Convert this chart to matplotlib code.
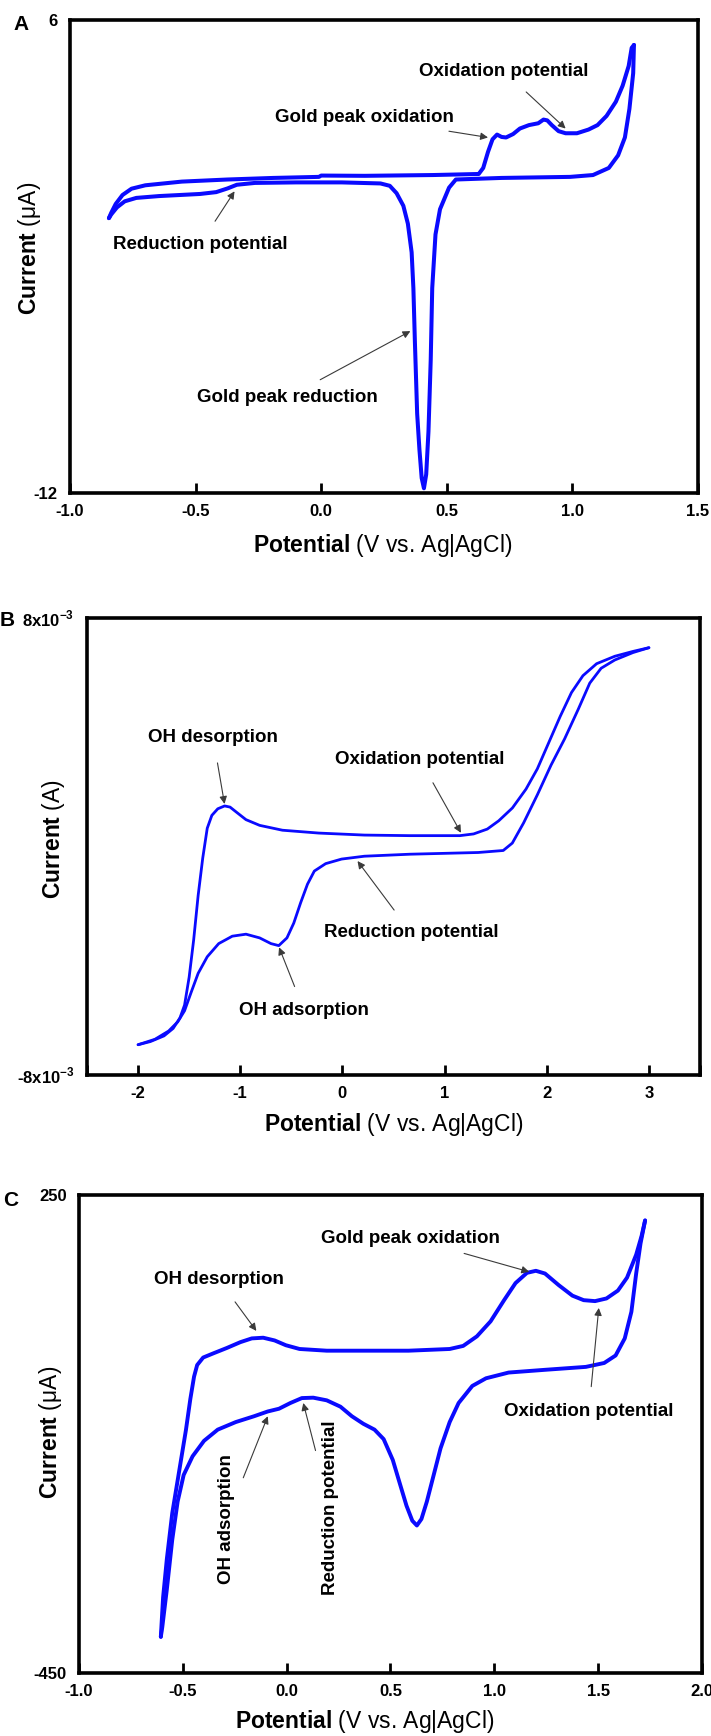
import matplotlib
matplotlib.use("Agg")
import matplotlib.pyplot as plt

plt.rcParams['font.family'] = ['Liberation Sans', 'DejaVu Sans']
plt.rcParams['mathtext.fontset'] = 'custom'
plt.rcParams['mathtext.rm'] = 'Liberation Sans'
plt.rcParams['mathtext.bf'] = 'Liberation Sans:bold'

# --- panel A: gold electrode, current in uA ---
a_fwd_x = [-0.845, -0.836, -0.818, -0.791, -0.755, -0.70, -0.555, -0.373, -0.191, -0.009,
           0.0, 0.173, 0.445, 0.627, 0.645, 0.664, 0.682, 0.70, 0.718, 0.736, 0.764, 0.791,
           0.827, 0.864, 0.885, 0.90, 0.918, 0.945, 0.973, 1.018, 1.064, 1.10, 1.136, 1.173,
           1.20, 1.224, 1.236, 1.245]
a_fwd_y = [-1.54, -1.34, -1.0, -0.66, -0.42, -0.29, -0.15, -0.07, -0.01, 0.03,
           0.08, 0.07, 0.10, 0.14, 0.37, 0.98, 1.46, 1.64, 1.55, 1.53, 1.66, 1.87,
           2.0, 2.07, 2.21, 2.18, 2.0, 1.77, 1.69, 1.69, 1.83, 2.0, 2.35, 2.89,
           3.5, 4.25, 4.94, 5.05]
a_rev_x = [1.245, 1.242, 1.227, 1.209, 1.182, 1.145, 1.082, 0.991, 0.718, 0.536, 0.509,
           0.473, 0.455, 0.442, 0.436, 0.427, 0.418, 0.409, 0.40, 0.391, 0.382, 0.373,
           0.367, 0.36, 0.345, 0.327, 0.30, 0.273, 0.236, 0.082, -0.10, -0.264, -0.336,
           -0.373, -0.418, -0.482, -0.645, -0.736, -0.782, -0.813, -0.836, -0.845]
a_rev_y = [5.05, 3.98, 2.62, 1.53, 0.85, 0.37, 0.10, 0.03, -0.01, -0.07, -0.38,
           -1.2, -2.16, -4.2, -6.93, -9.66, -11.29, -11.82, -11.43, -10.34, -8.98, -6.25,
           -4.21, -2.84, -1.75, -1.07, -0.59, -0.31, -0.22, -0.18, -0.18, -0.20, -0.27,
           -0.41, -0.55, -0.62, -0.70, -0.77, -0.90, -1.13, -1.40, -1.54]

# --- panel B: current in units of 1e-3 A ---
b_fwd_x = [-2.0, -1.88, -1.746, -1.657, -1.59, -1.545, -1.5, -1.456, -1.412, -1.367, -1.323,
           -1.278, -1.22, -1.153, -1.10, -1.033, -0.944, -0.81, -0.587, -0.231, 0.215, 0.66,
           1.15, 1.284, 1.418, 1.53, 1.664, 1.797, 1.908, 2.02, 2.131, 2.242, 2.354, 2.488,
           2.666, 2.844, 3.0]
b_fwd_y = [-6.94, -6.83, -6.63, -6.37, -6.0, -5.55, -4.57, -3.27, -1.71, -0.40, 0.64,
           1.09, 1.32, 1.42, 1.38, 1.19, 0.94, 0.74, 0.57, 0.47, 0.40, 0.38,
           0.38, 0.44, 0.61, 0.90, 1.35, 2.01, 2.72, 3.64, 4.55, 5.39, 5.98, 6.40,
           6.66, 6.83, 6.96]
b_rev_x = [3.0, 2.844, 2.666, 2.532, 2.421, 2.309, 2.175, 2.042, 1.908, 1.774, 1.663, 1.574,
           1.329, 0.66, 0.215, -0.008, -0.164, -0.275, -0.342, -0.409, -0.476, -0.543, -0.623,
           -0.699, -0.81, -0.944, -1.078, -1.211, -1.323, -1.412, -1.479, -1.545, -1.612,
           -1.701, -1.835, -2.0]
b_rev_y = [6.96, 6.79, 6.53, 6.24, 5.72, 4.81, 3.77, 2.85, 1.81, 0.83, 0.12, -0.14,
           -0.21, -0.27, -0.34, -0.44, -0.60, -0.86, -1.32, -1.97, -2.68, -3.20, -3.47,
           -3.40, -3.20, -3.07, -3.14, -3.40, -3.86, -4.44, -5.09, -5.75, -6.14,
           -6.46, -6.75, -6.94]

# --- panel C: current in uA ---
c_fwd_x = [-0.606, -0.595, -0.577, -0.551, -0.518, -0.485, -0.464, -0.446, -0.431, -0.402,
           -0.354, -0.288, -0.223, -0.168, -0.113, -0.058, -0.004, 0.062, 0.193, 0.587, 0.785,
           0.85, 0.916, 0.982, 1.047, 1.102, 1.157, 1.20, 1.244, 1.31, 1.376, 1.43, 1.485,
           1.54, 1.595, 1.639, 1.683, 1.709, 1.726]
c_fwd_y = [-397, -339, -283, -216, -155, -94, -49, -16, 1, 12,
           18, 26, 34.5, 40, 41, 37, 30, 24.5, 22, 22, 24.5,
           29, 43, 65, 96, 121, 136, 139, 135, 118, 102.6, 96, 94.6,
           98.5, 110, 129, 162.6, 190, 212.7]
c_rev_x = [1.726, 1.704, 1.683, 1.66, 1.628, 1.584, 1.529, 1.441, 1.244, 1.069, 0.96, 0.894,
           0.828, 0.785, 0.741, 0.708, 0.675, 0.649, 0.627, 0.605, 0.577, 0.544, 0.511, 0.467,
           0.423, 0.369, 0.314, 0.259, 0.193, 0.128, 0.073, 0.018, -0.037, -0.091, -0.157,
           -0.245, -0.332, -0.398, -0.453, -0.496, -0.525, -0.551, -0.577, -0.599, -0.606]
c_rev_y = [212.7, 179, 135, 79, 40, 15, 4, -1.7, -6, -10, -18.4, -29.6,
           -54.6, -82.5, -121, -160, -199, -224.5, -234, -227, -205, -171.6, -138, -107.5,
           -93.6, -85, -74, -60, -50.7, -46.8, -47.4, -54.6, -63, -67, -74,
           -82.5, -93.6, -110, -132.6, -160, -199, -255, -327.5, -383, -397]

BLUE = '#0a0aff'
W, H = 711, 1736


def axes_at(left, top, right, bottom):
    return fig.add_axes([left / W, 1 - bottom / H, (right - left) / W, (bottom - top) / H])


def style(ax, xticks, xlabels, ylim, ylabels):
    ax.set_xticks(xticks)
    ax.set_xticklabels(xlabels)
    ax.set_yticks(ylim)
    ax.set_yticklabels(ylabels)
    ax.set_ylim(ylim)
    ax.set_xlim(xticks[0], xticks[-1])
    for s in ax.spines.values():
        s.set_linewidth(2.6)
    ax.tick_params(axis='x', direction='in', length=7, width=2, pad=8, labelsize=12)
    ax.tick_params(axis='y', length=0, pad=9, labelsize=12)
    for t in ax.get_xticklabels() + ax.get_yticklabels():
        t.set_fontweight('bold')


def note(ax, text, xy, xytext, rot=0):
    ax.annotate(text, xy=xy, xytext=xytext, ha='center', va='center', rotation=rot,
                fontsize=13.5, fontweight='bold',
                arrowprops=dict(arrowstyle='-|>', color='#3a3a3a', lw=0.8,
                                mutation_scale=11, shrinkA=10, shrinkB=0))


def labels(ax, ylab, ypos, xpos):
    ax.set_xlabel(r'$\mathbf{Potential}$ (V vs. Ag|AgCl)', fontsize=16.5)
    ax.set_ylabel(r'$\mathbf{Current}$ ' + ylab, fontsize=16.5)
    ax.xaxis.set_label_coords(*xpos)
    ax.yaxis.set_label_coords(*ypos)
    ax.xaxis.label.set_va('center')
    ax.yaxis.label.set_va('center')


def curve(ax, xs, ys, lw):
    ax.plot(xs, ys, color=BLUE, lw=lw, solid_joinstyle='round', solid_capstyle='round')


fig = plt.figure(figsize=(W / 100, H / 100), dpi=100)

# A
axA = axes_at(70, 20, 698, 493)
curve(axA, a_fwd_x, a_fwd_y, 2.9)
curve(axA, a_rev_x, a_rev_y, 2.9)
style(axA, [-1.0, -0.5, 0.0, 0.5, 1.0, 1.5], ['-1.0', '-0.5', '0.0', '0.5', '1.0', '1.5'],
      [-12, 6], ['-12', '6'])
labels(axA, '(μA)', (-0.064, 0.518), (0.498, -0.112))
note(axA, 'Oxidation potential', (0.973, 1.87), (0.727, 4.05))
note(axA, 'Gold peak oxidation', (0.664, 1.53), (0.173, 2.28))
note(axA, 'Reduction potential', (-0.345, -0.52), (-0.482, -2.53))
note(axA, 'Gold peak reduction', (0.355, -5.84), (-0.136, -8.37))
fig.text(21 / W, 1 - 25 / H, 'A', fontsize=15, fontweight='bold', ha='center', va='center')

# B
axB = axes_at(87, 618, 700, 1075)
curve(axB, b_fwd_x, b_fwd_y, 2.0)
curve(axB, b_rev_x, b_rev_y, 2.0)
style(axB, [-2.5, -2, -1, 0, 1, 2, 3, 3.5], ['', '-2', '-1', '0', '1', '2', '3', ''],
      [-8, 8], [r'-8x10$^{\mathbf{-3}}$', r'8x10$^{\mathbf{-3}}$'])
labels(axB, '(A)', (-0.054, 0.516), (0.50, -0.109))
note(axB, 'OH desorption', (-1.154, 1.49), (-1.265, 3.80))
note(axB, 'Oxidation potential', (1.16, 0.48), (0.758, 3.05))
note(axB, 'Reduction potential', (0.148, -0.51), (0.67, -3.01))
note(axB, 'OH adsorption', (-0.62, -3.53), (-0.374, -5.75))
fig.text(7 / W, 1 - 621 / H, 'B', fontsize=15, fontweight='bold', ha='center', va='center')

# C
axC = axes_at(79, 1195, 702, 1673)
curve(axC, c_fwd_x, c_fwd_y, 2.8)
curve(axC, c_rev_x, c_rev_y, 2.8)
style(axC, [-1.0, -0.5, 0.0, 0.5, 1.0, 1.5, 2.0], ['-1.0', '-0.5', '0.0', '0.5', '1.0', '1.5', '2.0'],
      [-450, 250], ['-450', '250'])
labels(axC, '(μA)', (-0.0465, 0.504), (0.459, -0.1025))
note(axC, 'Gold peak oxidation', (1.168, 137.5), (0.598, 186.5))
note(axC, 'OH desorption', (-0.146, 51), (-0.328, 126.4))
note(axC, 'Oxidation potential', (1.503, 84.6), (1.455, -67.4))
note(axC, 'OH adsorption', (-0.091, -74), (-0.288, -224.5), rot=90)
note(axC, 'Reduction potential', (0.08, -54.6), (0.21, -208), rot=90)
fig.text(11 / W, 1 - 1201 / H, 'C', fontsize=15, fontweight='bold', ha='center', va='center')

fig.savefig('out.png', dpi=100)
